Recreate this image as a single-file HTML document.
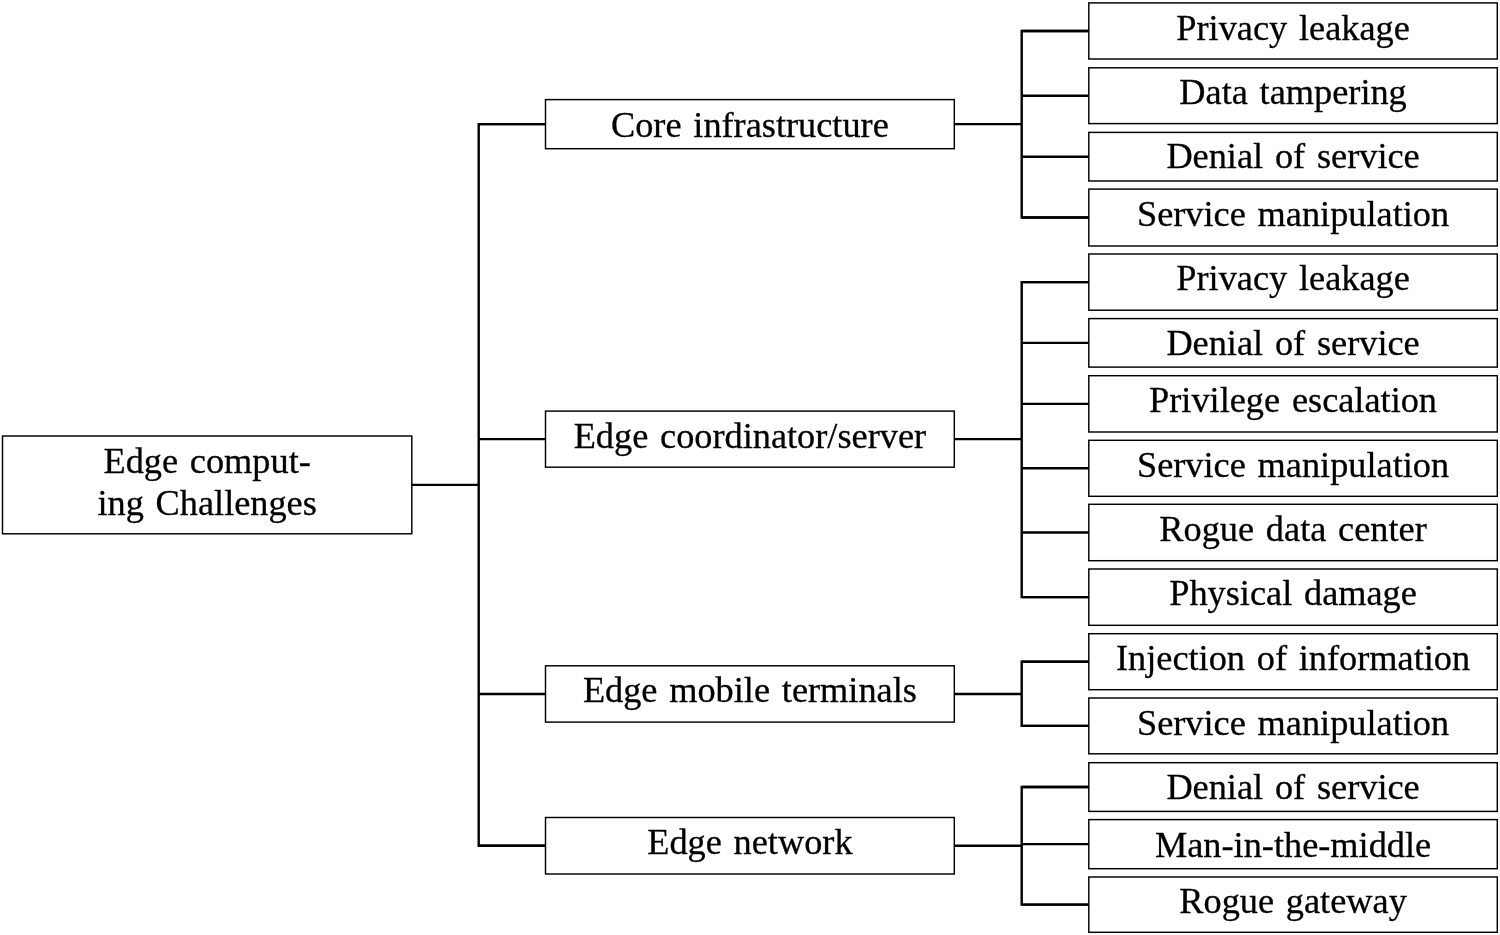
<!DOCTYPE html>
<html><head><meta charset="utf-8"><style>
html,body{margin:0;padding:0;background:#fff;width:1500px;height:935px;overflow:hidden}
svg{display:block;will-change:transform}
text{font-family:"Liberation Serif",serif;font-size:36.3px;text-anchor:middle;word-spacing:2.7px;fill:#000;stroke:#000;stroke-width:0.3px}
.b{fill:none;stroke:#000;stroke-width:1.45}
.c{fill:none;stroke:#000;stroke-width:2.4;stroke-linecap:butt;stroke-linejoin:miter}
</style></head><body>
<svg width="1500" height="935" viewBox="0 0 1500 935">
<rect x="2.50" y="436.00" width="409.30" height="97.80" class="b"/>
<text x="207.15" y="472.90">Edge comput-</text>
<text x="207.15" y="514.90">ing Challenges</text>
<path d="M411.80 484.90 L478.70 484.90" class="c"/>
<path d="M545.50 124.15 L478.70 124.15 L478.70 845.75 L545.50 845.75" class="c"/>
<rect x="545.50" y="99.60" width="408.80" height="49.10" class="b"/>
<text x="749.90" y="136.90">Core infrastructure</text>
<path d="M478.70 124.15 L545.50 124.15" class="c"/>
<path d="M954.30 124.15 L1021.70 124.15" class="c"/>
<path d="M1088.80 30.95 L1021.70 30.95 L1021.70 217.55 L1088.80 217.55" class="c"/>
<path d="M1021.70 30.95 L1088.80 30.95" class="c"/>
<path d="M1021.70 95.70 L1088.80 95.70" class="c"/>
<path d="M1021.70 156.70 L1088.80 156.70" class="c"/>
<path d="M1021.70 217.55 L1088.80 217.55" class="c"/>
<rect x="545.50" y="411.10" width="408.80" height="56.10" class="b"/>
<text x="749.90" y="447.90">Edge coordinator/server</text>
<path d="M478.70 439.15 L545.50 439.15" class="c"/>
<path d="M954.30 439.15 L1021.70 439.15" class="c"/>
<path d="M1088.80 282.10 L1021.70 282.10 L1021.70 597.15 L1088.80 597.15" class="c"/>
<path d="M1021.70 282.10 L1088.80 282.10" class="c"/>
<path d="M1021.70 342.85 L1088.80 342.85" class="c"/>
<path d="M1021.70 403.85 L1088.80 403.85" class="c"/>
<path d="M1021.70 468.30 L1088.80 468.30" class="c"/>
<path d="M1021.70 532.50 L1088.80 532.50" class="c"/>
<path d="M1021.70 597.15 L1088.80 597.15" class="c"/>
<rect x="545.50" y="665.80" width="408.80" height="56.30" class="b"/>
<text x="749.90" y="702.20">Edge mobile terminals</text>
<path d="M478.70 693.95 L545.50 693.95" class="c"/>
<path d="M954.30 693.95 L1021.70 693.95" class="c"/>
<path d="M1088.80 661.70 L1021.70 661.70 L1021.70 725.90 L1088.80 725.90" class="c"/>
<path d="M1021.70 661.70 L1088.80 661.70" class="c"/>
<path d="M1021.70 725.90 L1088.80 725.90" class="c"/>
<rect x="545.50" y="817.50" width="408.80" height="56.50" class="b"/>
<text x="749.90" y="854.30">Edge network</text>
<path d="M478.70 845.75 L545.50 845.75" class="c"/>
<path d="M954.30 845.75 L1021.70 845.75" class="c"/>
<path d="M1088.80 787.05 L1021.70 787.05 L1021.70 904.65 L1088.80 904.65" class="c"/>
<path d="M1021.70 787.05 L1088.80 787.05" class="c"/>
<path d="M1021.70 844.15 L1088.80 844.15" class="c"/>
<path d="M1021.70 904.65 L1088.80 904.65" class="c"/>
<rect x="1088.80" y="2.90" width="408.50" height="56.10" class="b"/>
<text x="1293.05" y="39.70">Privacy leakage</text>
<rect x="1088.80" y="67.80" width="408.50" height="55.80" class="b"/>
<text x="1293.05" y="104.20">Data tampering</text>
<rect x="1088.80" y="132.40" width="408.50" height="48.60" class="b"/>
<text x="1293.05" y="168.40">Denial of service</text>
<rect x="1088.80" y="189.10" width="408.50" height="56.90" class="b"/>
<text x="1293.05" y="226.30">Service manipulation</text>
<rect x="1088.80" y="254.00" width="408.50" height="56.20" class="b"/>
<text x="1293.05" y="290.30">Privacy leakage</text>
<rect x="1088.80" y="318.60" width="408.50" height="48.50" class="b"/>
<text x="1293.05" y="355.00">Denial of service</text>
<rect x="1088.80" y="375.70" width="408.50" height="56.30" class="b"/>
<text x="1293.05" y="411.60">Privilege escalation</text>
<rect x="1088.80" y="440.30" width="408.50" height="56.00" class="b"/>
<text x="1293.05" y="477.10">Service manipulation</text>
<rect x="1088.80" y="504.30" width="408.50" height="56.40" class="b"/>
<text x="1293.05" y="541.10">Rogue data center</text>
<rect x="1088.80" y="569.00" width="408.50" height="56.30" class="b"/>
<text x="1293.05" y="605.40">Physical damage</text>
<rect x="1088.80" y="633.70" width="408.50" height="56.00" class="b"/>
<text x="1293.05" y="670.10">Injection of information</text>
<rect x="1088.80" y="698.00" width="408.50" height="55.80" class="b"/>
<text x="1293.05" y="734.80">Service manipulation</text>
<rect x="1088.80" y="762.70" width="408.50" height="48.70" class="b"/>
<text x="1293.05" y="798.50">Denial of service</text>
<rect x="1088.80" y="819.60" width="408.50" height="49.10" class="b"/>
<text x="1293.05" y="857.10">Man-in-the-middle</text>
<rect x="1088.80" y="877.00" width="408.50" height="55.30" class="b"/>
<text x="1293.05" y="912.50">Rogue gateway</text>
</svg>
</body></html>
